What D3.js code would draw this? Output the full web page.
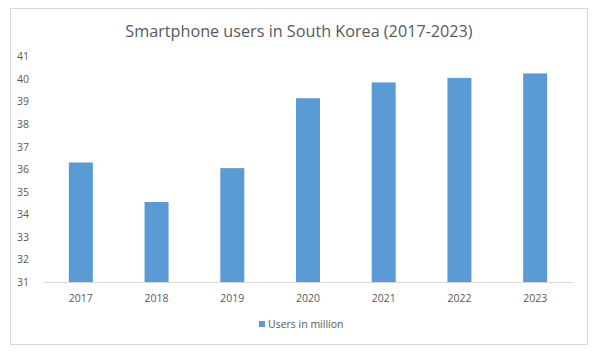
<!DOCTYPE html>
<html><head><meta charset="utf-8">
<script src="https://cdn.jsdelivr.net/npm/d3@7"></script>
<style>body{margin:0;background:#fff}svg{display:block}</style>
</head><body>
<script>
const title = "Smartphone users in South Korea (2017-2023)";
const categories = ["2017","2018","2019","2020","2021","2022","2023"];
const values = [36.3, 34.55, 36.05, 39.15, 39.85, 40.05, 40.25];
const yTicks = [31,32,33,34,35,36,37,38,39,40,41];
const seriesName = "Users in million";

const W = 596, H = 355;
const font = "'Open Sans', 'Liberation Sans', sans-serif";
const svg = d3.select("body").append("svg").attr("width", W).attr("height", H);
svg.append("rect").attr("x", 10.5).attr("y", 8.5).attr("width", 577).attr("height", 336)
  .attr("fill", "#fff").attr("stroke", "#d9d9d9");

const x = d3.scaleBand().domain(categories).range([43, 573]).paddingInner(0.683).paddingOuter(0.3415);
const y = d3.scaleLinear().domain([31, 41]).range([282, 56.5]);

svg.append("text").attr("x", 299).attr("y", 37).attr("text-anchor", "middle")
  .attr("font-family", font).attr("font-size", 16.2).attr("fill", "#595959").text(title);

svg.append("g").selectAll("rect").data(values).join("rect")
  .attr("x", (d, i) => x(categories[i])).attr("width", x.bandwidth())
  .attr("y", d => y(d)).attr("height", d => y(31) - y(d)).attr("fill", "#5b9bd5");

const ya = svg.append("g").attr("transform", "translate(32,0)")
  .call(d3.axisLeft(y).tickValues(yTicks).tickSize(0).tickFormat(d3.format("d")));
ya.select(".domain").remove();
ya.selectAll("text").attr("font-family", font).attr("font-size", 10.5).attr("fill", "#595959").attr("dx", 0);

const xa = svg.append("g").attr("transform", "translate(0,282)")
  .call(d3.axisBottom(x).tickSize(0));
xa.select(".domain").attr("stroke", "#d9d9d9");
xa.selectAll("text").attr("font-family", font).attr("font-size", 10.5).attr("fill", "#595959").attr("dy", "1.6em");

const lg = svg.append("g");
lg.append("rect").attr("x", 259).attr("y", 321).attr("width", 6).attr("height", 6).attr("fill", "#5b9bd5");
lg.append("text").attr("x", 268).attr("y", 328).attr("font-family", font).attr("font-size", 10.5)
  .attr("fill", "#595959").text(seriesName);
</script>
</body></html>
